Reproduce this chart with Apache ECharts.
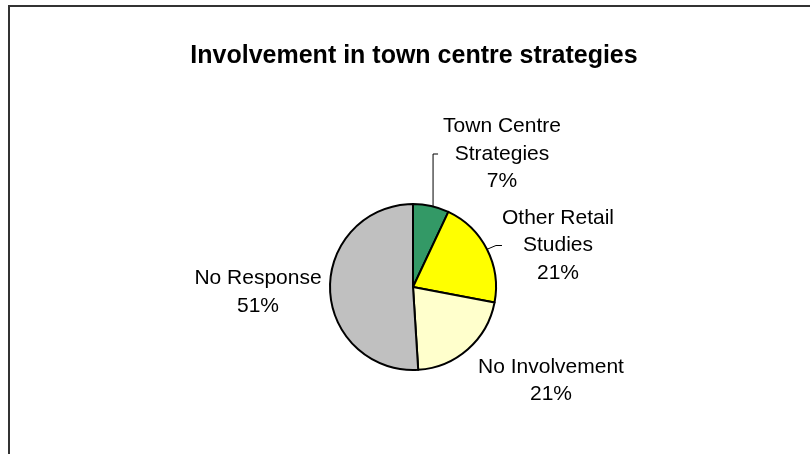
<!DOCTYPE html>
<html>
<head>
<meta charset="utf-8">
<script src="https://cdn.jsdelivr.net/npm/echarts@6/dist/echarts.min.js"></script>
<style>
html,body{margin:0;padding:0;background:#fff;}
#chart{width:810px;height:454px;}
</style>
</head>
<body>
<div id="chart"></div>
<script>
// ---- data ----
const titleText = 'Involvement in town centre strategies';
const categories = ['Town Centre\nStrategies', 'Other Retail\nStudies', 'No Involvement', 'No Response'];
const values = [7, 21, 21, 51];
const colors = ['#339966', '#FFFF00', '#FFFFCC', '#C0C0C0'];
// leader style: 'auto' = ECharts label line, 'vertical' = elbow leader drawn from pie layout, 'none'
const leaderType = ['vertical', 'auto', 'none', 'none'];

// label anchor positions (layout only)
const labelPos = [[502, 154], [558, 245.5], [551, 380.5], [258, 292]];

const font = "'Liberation Sans', Arial, sans-serif";
const chart = echarts.init(document.getElementById('chart'), null, {renderer: 'canvas'});

const frame = {
  type: 'polyline',
  shape: {points: [[9, 470], [9, 6], [820, 6]]},
  style: {stroke: '#333', lineWidth: 2, fill: null},
  silent: true
};

const option = {
  backgroundColor: '#ffffff',
  animation: false,
  title: {
    text: titleText,
    left: 409,
    top: 39,
    textAlign: 'center',
    textStyle: {fontFamily: font, fontSize: 25, fontWeight: 'bold', color: '#000'}
  },
  graphic: [frame],
  series: [{
    type: 'pie',
    center: [413, 287],
    radius: 83,
    startAngle: 90,
    clockwise: true,
    avoidLabelOverlap: false,
    percentPrecision: 0,
    itemStyle: {borderColor: '#000', borderWidth: 2},
    label: {
      show: true,
      position: 'outside',
      formatter: '{b}\n{d}%',
      fontFamily: font,
      fontSize: 21,
      lineHeight: 27.5,
      color: '#000',
      align: 'center'
    },
    labelLine: {show: true, length: 10, length2: 6, smooth: false, lineStyle: {color: '#000', width: 1}},
    labelLayout: function (p) {
      const pos = labelPos[p.dataIndex];
      return {x: pos[0], y: pos[1], align: 'center', verticalAlign: 'middle'};
    },
    emphasis: {disabled: true},
    data: categories.map((c, i) => ({
      name: c,
      value: values[i],
      itemStyle: {color: colors[i]},
      labelLine: {show: leaderType[i] === 'auto'}
    }))
  }]
};
chart.setOption(option);

// elbow leader lines derived from the pie's own layout and the label box
(function () {
  const series = chart.getModel().getSeriesByIndex(0);
  const data = series.getData();
  const extra = [];
  leaderType.forEach(function (t, i) {
    if (t !== 'vertical') return;
    const lay = data.getItemLayout(i);
    const el = data.getItemGraphicEl(i);
    const label = el && el.getTextContent();
    if (!label) return;
    const rect = label.getBoundingRect().clone();
    rect.applyTransform(label.getComputedTransform());
    const ly = rect.y + rect.height / 2;
    const lx = rect.x - 5;
    const vx = lx - 5;
    const dx = vx - lay.cx;
    const vy = lay.cy - Math.sqrt(Math.max(0, lay.r * lay.r - dx * dx));
    extra.push({
      type: 'polyline',
      shape: {points: [[vx, vy], [vx, ly], [lx, ly]]},
      style: {stroke: '#000', lineWidth: 1, fill: null},
      silent: true
    });
  });
  chart.setOption({graphic: [frame].concat(extra)}, {replaceMerge: ['graphic']});
})();
</script>
</body>
</html>
